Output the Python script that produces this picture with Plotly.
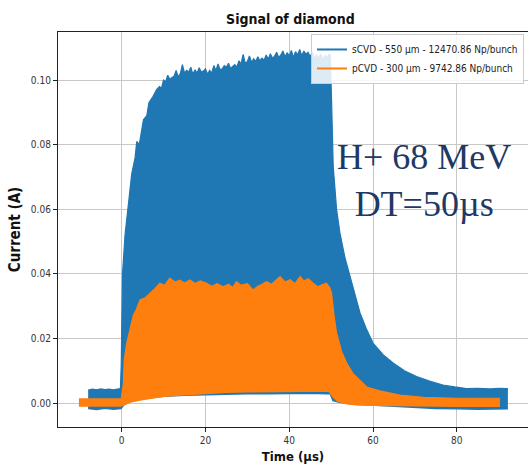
import plotly.graph_objects as go

# Signal envelopes of the two diamond detectors (time in µs, current in A).
# The raw traces oscillate densely, so each one is drawn as the band between
# its lower and upper envelope.
scvd_t_upper = [-8.0, -7.0, -6.0, -5.0, -4.0, -3.0, -2.0, -1.0, -0.3, -0.1, 0.2, 0.8,
                1.6, 2.4, 3.2, 3.6, 4.2, 5.2, 6.0, 6.5, 7.5, 8.3, 9.0, 9.5,
                10.0, 10.5, 11.0, 11.5, 12.0, 12.5, 13.0, 13.5, 14.0, 14.5, 15.0, 15.5,
                16.0, 16.5, 17.0, 17.5, 18.0, 18.5, 19.0, 19.5, 20.0, 20.5, 21.0, 21.5,
                22.0, 22.5, 23.0, 23.5, 24.0, 24.5, 25.0, 25.5, 26.0, 26.5, 27.0, 27.5,
                28.0, 28.5, 29.0, 29.5, 30.0, 30.5, 31.0, 31.5, 32.0, 32.5, 33.0, 33.5,
                34.0, 34.5, 35.0, 35.5, 36.0, 36.5, 37.0, 37.5, 38.0, 38.5, 39.0, 39.5,
                40.0, 40.5, 41.0, 41.5, 42.0, 42.5, 43.0, 43.5, 44.0, 44.5, 45.0, 45.5,
                46.0, 46.5, 47.0, 47.5, 48.0, 48.5, 49.0, 49.5, 49.8,
                50.1, 50.5, 51.3, 52.1, 53.3, 54.5, 55.7, 56.9, 58.4, 60.0, 62.4,
                64.8, 67.5, 70.4, 73.5, 76.7, 79.5, 82.3, 85.0, 88.0, 90.0, 92.2]
scvd_i_upper = [0.0040, 0.0043, 0.0041, 0.0044, 0.0042, 0.0043, 0.0041, 0.0044, 0.0045, 0.0120, 0.0400, 0.0520,
                0.0610, 0.0710, 0.0760, 0.0810, 0.0800, 0.0877, 0.0890, 0.0930, 0.0950, 0.0970, 0.0980, 0.0975,
                0.1000, 0.0995, 0.1015, 0.1002, 0.1008, 0.1012, 0.1030, 0.1010, 0.1020, 0.1048, 0.1022, 0.1030,
                0.1025, 0.1040, 0.1018, 0.1032, 0.1022, 0.1038, 0.1025, 0.1028, 0.1035, 0.1018, 0.1030, 0.1022,
                0.1045, 0.1030, 0.1050, 0.1032, 0.1035, 0.1045, 0.1040, 0.1052, 0.1036, 0.1042, 0.1048, 0.1040,
                0.1060, 0.1050, 0.1080, 0.1052, 0.1058, 0.1075, 0.1055, 0.1066, 0.1058, 0.1072, 0.1060, 0.1068,
                0.1062, 0.1078, 0.1065, 0.1082, 0.1068, 0.1074, 0.1086, 0.1070, 0.1078, 0.1090, 0.1072, 0.1085,
                0.1075, 0.1092, 0.1070, 0.1088, 0.1078, 0.1095, 0.1076, 0.1090, 0.1080, 0.1086, 0.1072, 0.1088,
                0.1068, 0.1078, 0.1066, 0.1082, 0.1064, 0.1076, 0.1070, 0.1080, 0.1078,
                0.0940, 0.0733, 0.0600, 0.0527, 0.0450, 0.0390, 0.0330, 0.0279, 0.0230, 0.0186, 0.0150,
                0.0124, 0.0100, 0.0082, 0.0068, 0.0056, 0.0050, 0.0045, 0.0046, 0.0044, 0.0046, 0.0045]
scvd_t_lower = [-8.0, -6.0, -4.0, -2.0, -0.2, 0.5, 2.0, 4.0, 6.0, 10.0, 15.0, 20.0, 25.0, 30.0,
                35.0, 40.0, 45.0, 49.0, 49.8, 50.5, 52.0, 55.0, 60.0, 65.0, 70.0, 75.0, 80.0,
                85.0, 92.2]
scvd_i_lower = [-0.0016, -0.0019, -0.0015, -0.0018, -0.0016, -0.0005, 0.0005, 0.0012, 0.0016, 0.0022,
                0.0025, 0.0027, 0.0029, 0.0030, 0.0030, 0.0031, 0.0031, 0.0030, 0.0030, 0.0008,
                0.0003, -0.0002, -0.0006, -0.0009, -0.0013, -0.0016, -0.0017, -0.0018, -0.0017]

pcvd_t_upper = [-10.2, -5.0, -0.1, 0.4, 0.6, 1.2, 2.0, 2.8, 3.5, 4.4, 5.5, 6.8, 8.0, 9.1, 10.3,
                11.5, 12.7, 13.9, 15.0, 16.3, 17.5, 18.8, 20.3, 21.5, 22.8, 24.2, 25.5, 26.5,
                27.4, 28.5, 30.0, 31.4, 32.5, 33.5, 34.6, 35.8, 36.8, 37.8, 39.0, 40.2, 41.4,
                42.6, 43.5, 44.5, 45.7, 46.8, 47.8, 48.9, 49.7, 50.1, 50.7, 51.3, 52.5, 53.7,
                55.2, 56.9, 58.5, 61.6, 66.4, 72.0, 80.0, 90.3]
pcvd_i_upper = [0.0013, 0.0013, 0.0013, 0.0060, 0.0133, 0.0185, 0.0226, 0.0273, 0.0290, 0.0320, 0.0325,
                0.0340, 0.0355, 0.0371, 0.0365, 0.0387, 0.0375, 0.0381, 0.0372, 0.0381, 0.0370, 0.0378,
                0.0371, 0.0362, 0.0370, 0.0360, 0.0368, 0.0358, 0.0376, 0.0365, 0.0370, 0.0350, 0.0362,
                0.0368, 0.0376, 0.0368, 0.0380, 0.0392, 0.0375, 0.0382, 0.0370, 0.0392, 0.0378, 0.0385,
                0.0371, 0.0360, 0.0366, 0.0371, 0.0357, 0.0340, 0.0270, 0.0217, 0.0160, 0.0124, 0.0092,
                0.0071, 0.0050, 0.0038, 0.0025, 0.0018, 0.0015, 0.0015]
pcvd_t_lower = [-10.2, -5.0, -0.1, 0.5, 2.0, 5.0, 10.0, 15.0, 20.0, 25.0, 30.0, 35.0, 40.0, 45.0,
                49.5, 50.5, 51.5, 53.0, 56.0, 60.0, 70.0, 80.0, 90.3]
pcvd_i_lower = [-0.0008, -0.0009, -0.0008, -0.0004, 0.0004, 0.0012, 0.0022, 0.0027, 0.0031, 0.0034,
                0.0036, 0.0037, 0.0038, 0.0038, 0.0038, 0.0020, 0.0008, 0.0000, -0.0004, -0.0006,
                -0.0008, -0.0009, -0.0009]

series_names = ["sCVD - 550 µm - 12470.86 Np/bunch", "pCVD - 300 µm - 9742.86 Np/bunch"]
series_colors = ["#1f77b4", "#ff7f0e"]

x_ticks = [0, 20, 40, 60, 80]
y_ticks = [0.00, 0.02, 0.04, 0.06, 0.08, 0.10]

bands = [
    (scvd_t_lower, scvd_i_lower, scvd_t_upper, scvd_i_upper),
    (pcvd_t_lower, pcvd_i_lower, pcvd_t_upper, pcvd_i_upper),
]

fig = go.Figure()
for (tl, il, tu, iu), name, color in zip(bands, series_names, series_colors):
    fig.add_trace(go.Scatter(x=tl, y=il, mode="lines", name=name,
                             line=dict(color=color, width=2), showlegend=True))
    fig.add_trace(go.Scatter(x=tu, y=iu, mode="lines", fill="tonexty",
                             fillcolor=color, line=dict(color=color, width=1.2),
                             showlegend=False, hoverinfo="skip"))

base_font = "DejaVu Sans Condensed, Liberation Sans Narrow, DejaVu Sans, sans-serif"

fig.add_annotation(x=72.1, y=0.069, xref="x", yref="y",
                   text="H+ 68 MeV<br>DT=50µs", showarrow=False,
                   font=dict(family="Liberation Serif, Times New Roman, serif",
                             size=36, color="#203864"),
                   align="center")

fig.update_layout(
    width=528, height=468,
    margin=dict(l=58, r=0, t=32, b=41),
    paper_bgcolor="white", plot_bgcolor="white",
    title=dict(text="<b>Signal of diamond</b>", x=0.55, xanchor="center",
               y=1 - 19 / 468, yanchor="middle",
               font=dict(family=base_font, size=14, color="#111")),
    font=dict(family=base_font, size=10, color="#333"),
    showlegend=True,
    legend=dict(x=0.9915, y=0.995, xanchor="right", yanchor="top",
                traceorder="normal",
                bgcolor="rgba(255,255,255,0.85)", bordercolor="#cccccc",
                borderwidth=1, font=dict(family=base_font, size=10, color="#222"),
                tracegroupgap=0, itemwidth=30),
)

fig.update_xaxes(range=[-15.2, 97.0], tickvals=x_ticks, ticktext=[str(v) for v in x_ticks],
                 showgrid=True, gridcolor="#c8c8c8", gridwidth=1, zeroline=False,
                 showline=True, linecolor="#222", linewidth=1.2, mirror=True,
                 ticks="outside", ticklen=4, tickcolor="#222",
                 title=dict(text="<b>Time (µs)</b>", standoff=6,
                            font=dict(family=base_font, size=13, color="#111")))
fig.update_yaxes(range=[-0.0074, 0.1149], tickvals=y_ticks,
                 ticktext=[f"{v:.2f}" for v in y_ticks],
                 showgrid=True, gridcolor="#c8c8c8", gridwidth=1, zeroline=False,
                 showline=True, linecolor="#222", linewidth=1.2,
                 ticks="outside", ticklen=4, tickcolor="#222",
                 title=dict(text="<b>Current (A)</b>", standoff=6,
                            font=dict(family=base_font, size=15, color="#111")))

fig.write_html("out.html")
